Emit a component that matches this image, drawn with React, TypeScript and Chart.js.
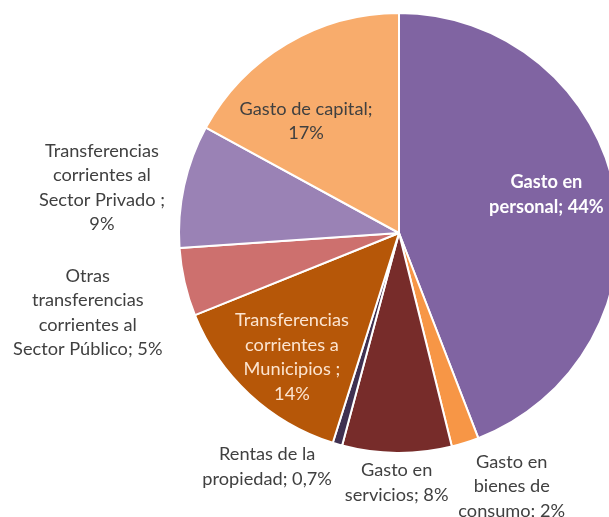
import React, { useEffect, useRef } from "react";
import { Chart, registerables } from "chart.js";

Chart.register(...registerables);

const categories = [
  "Gasto en personal",
  "Gasto en bienes de consumo",
  "Gasto en servicios",
  "Rentas de la propiedad",
  "Transferencias corrientes a Municipios",
  "Otras transferencias corrientes al Sector Público",
  "Transferencias corrientes al Sector Privado",
  "Gasto de capital",
];

const values = [44, 2, 8, 0.7, 14, 5, 9, 17];

const labelLines = [
  ["Gasto en", "personal; 44%"],
  ["Gasto en", "bienes de", "consumo; 2%"],
  ["Gasto en", "servicios; 8%"],
  ["Rentas de la", "propiedad; 0,7%"],
  ["Transferencias", "corrientes a", "Municipios ;", "14%"],
  ["Otras", "transferencias", "corrientes al", "Sector Público; 5%"],
  ["Transferencias", "corrientes al", "Sector Privado ;", "9%"],
  ["Gasto de capital;", "17%"],
];

const colors = [
  "#8064A2",
  "#F79646",
  "#772C2A",
  "#403151",
  "#B65708",
  "#CD706E",
  "#9A82B5",
  "#F8AC6C",
];

// label placement: radial factor along mid-angle, plus nudge
const labelPlace = [
  { f: 0.7, dx: -4, dy: -10, color: "#FFFFFF", bold: true },
  { f: 1.25, dx: 30, dy: -9, color: "#404040", bold: false },
  { f: 1.13, dx: 0, dy: 1, color: "#404040", bold: false },
  { f: 1.2, dx: -58, dy: -20, color: "#404040", bold: false },
  { f: 0.75, dx: 5, dy: 3, color: "#FCE4D0", bold: false },
  { f: 1.4, dx: -11, dy: 11, color: "#404040", bold: false },
  { f: 1.35, dx: -7, dy: 18, color: "#404040", bold: false },
  { f: 0.65, dx: -20, dy: 11, color: "#404040", bold: false },
];

const FONT = "Lato, 'Open Sans', sans-serif";
const FONT_SIZE = 18.2;
const LINE_H = 24.5;

const labelPlugin = {
  id: "sliceLabels",
  afterDatasetsDraw(chart: any) {
    const ctx = chart.ctx;
    const meta = chart.getDatasetMeta(0);
    meta.data.forEach((arc: any, i: number) => {
      const p = arc.getProps(["x", "y", "startAngle", "endAngle", "outerRadius"], true);
      const mid = (p.startAngle + p.endAngle) / 2;
      const pl = labelPlace[i];
      const cx = p.x + Math.cos(mid) * p.outerRadius * pl.f + pl.dx;
      const cy = p.y + Math.sin(mid) * p.outerRadius * pl.f + pl.dy;
      const lines = labelLines[i];
      ctx.save();
      ctx.font = `${pl.bold ? "bold " : ""}${FONT_SIZE}px ${FONT}`;
      ctx.fillStyle = pl.color;
      ctx.textAlign = "center";
      ctx.textBaseline = "middle";
      const top = cy - ((lines.length - 1) * LINE_H) / 2;
      lines.forEach((ln, k) => ctx.fillText(ln, cx, top + k * LINE_H));
      ctx.restore();
    });
  },
};

export default function App() {
  const ref = useRef<HTMLCanvasElement | null>(null);
  useEffect(() => {
    if (!ref.current) return;
    const chart = new Chart(ref.current, {
      type: "pie",
      data: {
        labels: categories,
        datasets: [
          {
            data: values,
            backgroundColor: colors,
            borderColor: "#FFFFFF",
            borderWidth: 2,
            hoverOffset: 0,
          },
        ],
      },
      options: {
        responsive: false,
        animation: false,
        devicePixelRatio: 1,
        layout: { padding: { left: 178, right: 20, top: 12, bottom: 63 } },
        plugins: {
          legend: { display: false },
          tooltip: { enabled: false },
        },
        events: [],
      },
      plugins: [labelPlugin],
    });
    return () => chart.destroy();
  }, []);
  return (
    <div
      style={{
        position: "fixed",
        left: 0,
        top: 0,
        width: 609,
        height: 517,
        overflow: "hidden",
        background: "#FFFFFF",
      }}
    >
      <canvas ref={ref} width={640} height={517} style={{ width: 640, height: 517, display: "block" }} />
    </div>
  );
}
